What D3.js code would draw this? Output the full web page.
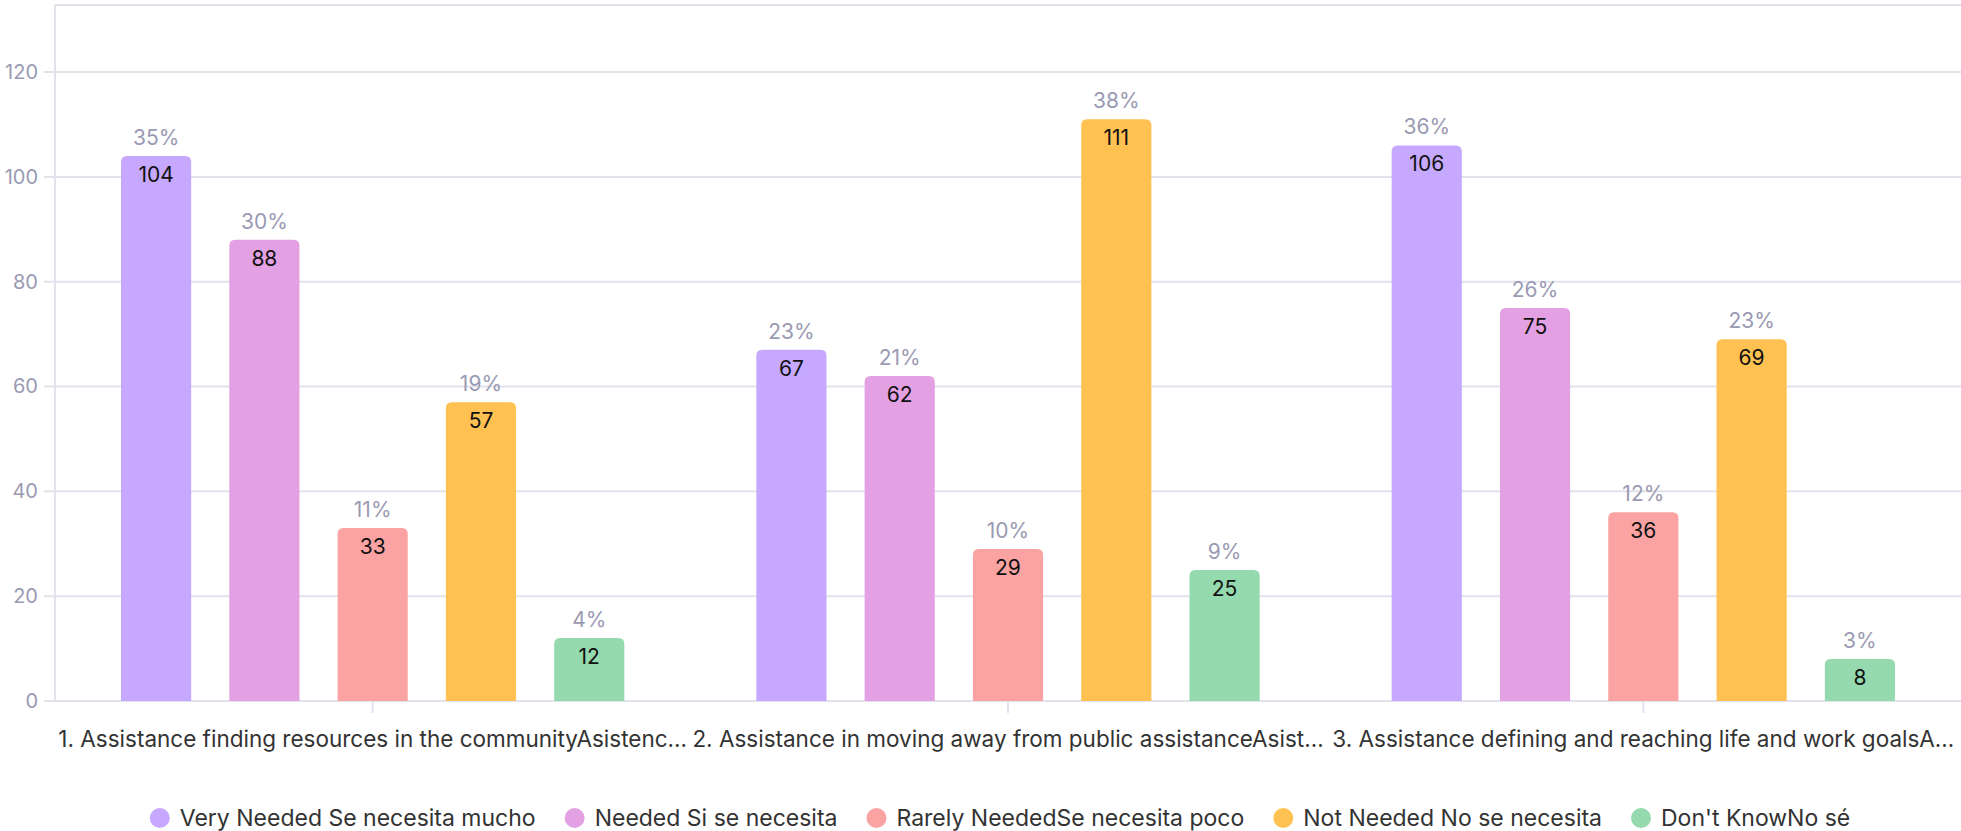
<!DOCTYPE html>
<html>
<head>
<meta charset="utf-8">
<script src="https://cdn.jsdelivr.net/npm/d3@7"></script>
<style>
  html, body { margin: 0; padding: 0; background: #ffffff; }
  svg { display: block; font-family: Inter, "Noto Sans", sans-serif; }
</style>
</head>
<body>
<svg id="chart" width="1961" height="831"></svg>
<script>
// Survey questions (labels as displayed, truncated to fit the band)
const categories = [
  "1. Assistance finding resources in the communityAsistenc\u2026",
  "2. Assistance in moving away from public assistanceAsist\u2026",
  "3. Assistance defining and reaching life and work goalsA\u2026"
];

// Response options
const seriesNames = [
  "Very Needed Se necesita mucho",
  "Needed Si se necesita",
  "Rarely NeededSe necesita poco",
  "Not Needed No se necesita",
  "Don't KnowNo sé"
];

// Respondent counts per question, one array per response option
const veryNeeded   = [104, 67, 106];
const needed       = [88, 62, 75];
const rarelyNeeded = [33, 29, 36];
const notNeeded    = [57, 111, 69];
const dontKnow     = [12, 25, 8];

const yTicks = [0, 20, 40, 60, 80, 100, 120];

const colors = ["#c6a9fe", "#e3a1e3", "#fba3a3", "#ffc152", "#95d9ae"];

const seriesValues = [veryNeeded, needed, rarelyNeeded, notNeeded, dontKnow];

// Build a row per question with the counts of every option
const rows = categories.map((c, i) => {
  const vals = seriesValues.map(s => s[i]);
  const total = d3.sum(vals);
  return {
    category: c,
    items: seriesNames.map((name, k) => ({ name, value: vals[k], share: vals[k] / total, color: colors[k] }))
  };
});

const svg = d3.select("#chart");
const plot = { left: 55, right: 1961, top: 5, bottom: 701 };

const x0 = d3.scaleBand().domain(categories).range([plot.left, plot.right]);
const groupPad = 66;
const x1 = d3.scaleBand().domain(seriesNames)
  .range([groupPad, x0.bandwidth() - groupPad]).paddingInner(0.352);
const y = d3.scaleLinear().domain([0, 132.8]).range([plot.bottom, plot.top]);

const gridColor = "#e2e2ec";
const axisTextColor = "#9a9ab2";
const labelColor = "#333333";

// Horizontal gridlines + top border
const grid = svg.append("g");
grid.selectAll("line.h").data(yTicks).join("line")
  .attr("x1", plot.left - 11).attr("x2", plot.right)
  .attr("y1", d => y(d)).attr("y2", d => y(d))
  .attr("stroke", gridColor).attr("stroke-width", 2);
grid.append("line")
  .attr("x1", plot.left).attr("x2", plot.right)
  .attr("y1", plot.top).attr("y2", plot.top)
  .attr("stroke", gridColor).attr("stroke-width", 2);
// Left axis line
grid.append("line")
  .attr("x1", plot.left).attr("x2", plot.left)
  .attr("y1", plot.top).attr("y2", plot.bottom)
  .attr("stroke", gridColor).attr("stroke-width", 2);

// Y axis labels
const yAxis = d3.axisLeft(y).tickValues(yTicks).tickSize(0).tickPadding(17);
const yg = svg.append("g").attr("transform", `translate(${plot.left},0)`).call(yAxis);
yg.select(".domain").remove();
yg.selectAll("text")
  .attr("fill", axisTextColor)
  .style("font-size", "20px")
  .style("font-family", "Inter, sans-serif");

// X axis ticks and labels
const xAxis = d3.axisBottom(x0).tickSize(12);
const xg = svg.append("g").attr("transform", `translate(0,${plot.bottom})`).call(xAxis);
xg.select(".domain").remove();
xg.selectAll(".tick line").attr("stroke", gridColor).attr("stroke-width", 2);
xg.selectAll("text")
  .attr("y", 46).attr("dy", 0)
  .attr("fill", labelColor)
  .style("font-size", "22.5px")
  .style("font-family", "Inter, sans-serif");

// Bars with rounded top corners
function topRounded(x, yTop, w, h, r) {
  r = Math.min(r, h, w / 2);
  return `M${x},${yTop + h}V${yTop + r}Q${x},${yTop} ${x + r},${yTop}H${x + w - r}Q${x + w},${yTop} ${x + w},${yTop + r}V${yTop + h}Z`;
}

const groups = svg.append("g").selectAll("g").data(rows).join("g")
  .attr("transform", d => `translate(${x0(d.category)},0)`);

groups.selectAll("path").data(d => d.items).join("path")
  .attr("d", d => topRounded(x1(d.name), y(d.value), x1.bandwidth(), y(0) - y(d.value), 6))
  .attr("fill", d => d.color);

// Share above each bar
groups.selectAll("text.share").data(d => d.items).join("text")
  .attr("class", "share")
  .attr("x", d => x1(d.name) + x1.bandwidth() / 2)
  .attr("y", d => y(d.value) - 11)
  .attr("text-anchor", "middle")
  .attr("fill", axisTextColor)
  .style("font-size", "21px")
  .text(d => Math.round(d.share * 100) + "%");

// Count inside each bar
groups.selectAll("text.value").data(d => d.items).join("text")
  .attr("class", "value")
  .attr("x", d => x1(d.name) + x1.bandwidth() / 2)
  .attr("y", d => y(d.value) + 26)
  .attr("text-anchor", "middle")
  .attr("fill", "#111111")
  .style("font-size", "21px")
  .text(d => d.value);

// Legend
const legend = svg.append("g");
const items = legend.selectAll("g").data(seriesNames).join("g");
items.append("circle").attr("r", 10).attr("cy", 0).attr("cx", 10)
  .attr("fill", (d, i) => colors[i]);
items.append("text").attr("x", 30).attr("y", 0).attr("dy", "0.36em")
  .attr("fill", labelColor).style("font-size", "23px").text(d => d);

let cursor = 0;
const gap = 29;
items.each(function () {
  const g = d3.select(this);
  g.attr("transform", `translate(${cursor},0)`);
  cursor += 30 + g.select("text").node().getComputedTextLength() + gap;
});
const total = cursor - gap;
legend.attr("transform", `translate(${1000 - total / 2},818)`);
</script>
</body>
</html>
